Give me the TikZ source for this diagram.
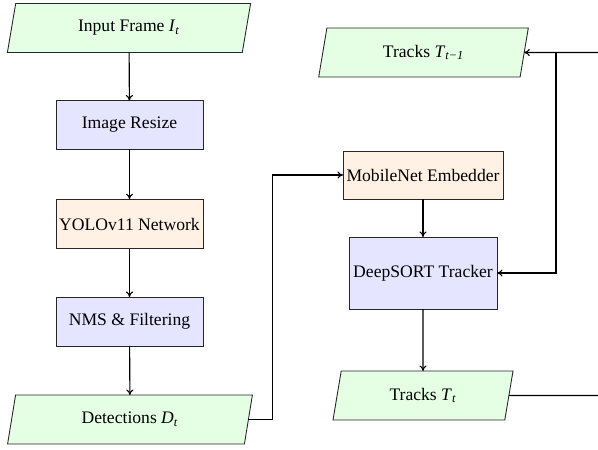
\documentclass[tikz,border=0pt]{standalone}
\usepackage{fontspec}
\setmainfont{Liberation Serif}
\usetikzlibrary{shapes.geometric,arrows.meta}
\newcommand{\sub}[1]{\textsubscript{\textit{#1}}}
\begin{document}
\begin{tikzpicture}[x=0.625pt,y=-0.625pt,
  font=\fontsize{11}{13}\selectfont,
  box/.style={draw=black!85, line width=0.55pt, outer sep=0pt, inner sep=2pt},
  process/.style={box, rectangle, fill=blue!10, minimum width=91.9pt, minimum height=30.6pt},
  model/.style={box, rectangle, fill=orange!10},
  data/.style={box, trapezium, trapezium left angle=69, trapezium right angle=111,
    trapezium stretches body=true, fill=green!10, minimum height=30.6pt},
  flow/.style={-{To[length=3.5pt,width=4.5pt]}, line width=0.7pt}]
\useasboundingbox (0,0) rectangle (598,449);
\clip (0,0) rectangle (598,449);

% detection pipeline
\node[data, minimum width=152pt] (in) at (129,28) {Input Frame \textit{I}\sub{t}};
\node[process] (resize) at (129.5,125) {Image Resize};
\node[model, minimum width=91.9pt, minimum height=31pt] (yolo) at (129.5,224) {YOLOv11 Network};
\node[process] (nms) at (129.5,321.5) {NMS \& Filtering};
\node[data, minimum width=153pt] (det) at (130,419.5) {Detections \textit{D}\sub{t}};

% tracking pipeline
\node[data, minimum width=131pt] (prev) at (423.5,52.5) {Tracks \textit{T}\sub{t−1}};
\node[model, minimum width=100pt, minimum height=30pt] (embed) at (423,175) {MobileNet Embedder};
\node[process, minimum width=92.5pt, minimum height=45pt] (sort) at (423,273) {DeepSORT Tracker};
\node[data, minimum width=112.5pt] (cur) at (423,395.5) {Tracks \textit{T}\sub{t}};

\coordinate (split) at (556,52.5);
\coordinate (wrap) at (620,395.5);

\draw[flow] (in) -- (resize);
\draw[flow] (resize) -- (yolo);
\draw[flow] (yolo) -- (nms);
\draw[flow] (nms) -- (det);
\draw[flow] (det.east) -- ++(24,0) |- (embed.west);
\draw[flow] (embed) -- (sort);
\draw[flow] (sort) -- (cur);
\draw[flow] (cur.east) -- (wrap) |- (prev.east);
\draw[flow] (split) |- (sort.east);
\end{tikzpicture}
\end{document}
